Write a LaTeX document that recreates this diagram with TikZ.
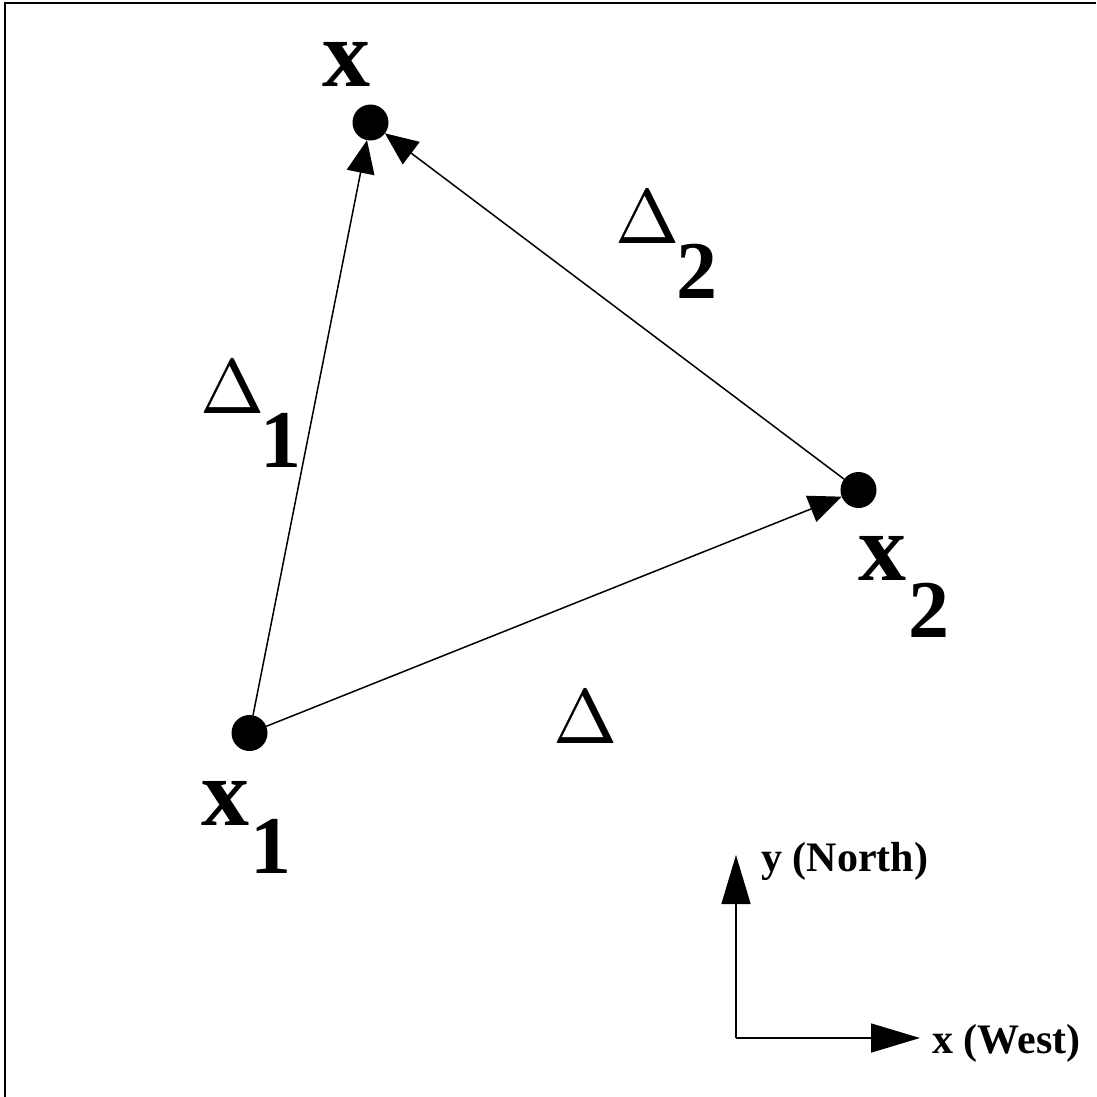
\documentclass[tikz,border=0pt]{standalone}
\usepackage{fontspec}
\setmainfont{Liberation Serif}
\usetikzlibrary{arrows.meta}
\tikzset{
  pt/.style={circle,fill=black,inner sep=0pt,outer sep=0pt,minimum size=36pt},
  vec/.style={line width=1.5pt,-{Triangle[length=33pt,width=28pt]}},
  axis/.style={line width=1.5pt,-{Triangle[length=49pt,width=29pt]}},
  big/.style={inner sep=0pt,anchor=base west,font=\fontsize{96}{96}\selectfont\bfseries},
  sub/.style={inner sep=0pt,anchor=base west,font=\fontsize{82}{82}\selectfont\bfseries},
  dlt/.style={inner sep=0pt,anchor=base west},
  ax/.style={inner sep=0pt,anchor=base west,font=\fontsize{42}{42}\selectfont\bfseries}
}
\newcommand{\bigdelta}{\scalebox{7.7}{$\Delta$}}
\begin{document}
\begin{tikzpicture}[x=1pt,y=-1pt]
\useasboundingbox (0,0) rectangle (1096,1097);
\draw[line width=2pt] (5,1097) -- (5,3) -- (1096,3);
\node[pt] (px) at (370.5,122.5) {};
\node[pt] (px2) at (858.5,490) {};
\node[pt] (px1) at (249.5,733) {};
\draw[vec] (px1) -- (px);
\draw[vec] (px2) -- (px);
\draw[vec] (px1) -- (px2);
% labels
\node[big] (lx) at (322,87) {x};
\node[big] (lx2) at (858,580) {x};
\node[sub] (lx2s) at (908,637) {2};
\node[big] (lx1) at (201,825) {x};
\node[sub] (lx1s) at (250,873) {1};
\node[dlt] (ld) at (553,743) {\bigdelta};
\node[dlt] (ld2) at (615,243) {\bigdelta};
\node[sub] (ld2s) at (676,298) {2};
\node[dlt] (ld1) at (200,413) {\bigdelta};
\node[sub] (ld1s) at (260,467) {1};
% axes
\coordinate (o) at (736,1038);
\coordinate (ytip) at (736,855);
\coordinate (xtip) at (920,1038);
\draw[axis] (o) -- (ytip);
\draw[axis] (o) -- (xtip);
\node[ax] (ly) at (761,871) {y (North)};
\node[ax] (lxw) at (932,1053) {x (West)};
\end{tikzpicture}
\end{document}
